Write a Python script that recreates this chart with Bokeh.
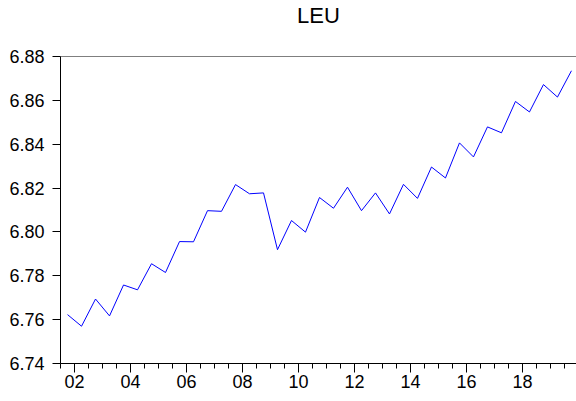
from bokeh.plotting import figure
from bokeh.models import (Range1d, BasicTicker, Span, Title,
                          NumeralTickFormatter, CustomJSTickFormatter)
from bokeh.layouts import gridplot
from bokeh.embed import file_html
from bokeh.resources import INLINE

# Semi-annual observations 2001S2 .. 2019S2
periods = [f"{y}S{h}" for y in range(2001, 2020) for h in (1, 2)][1:]
leu = [6.7623, 6.7570, 6.7694, 6.7617, 6.7758, 6.7736, 6.7855, 6.7815,
       6.7956, 6.7955, 6.8097, 6.8094, 6.8216, 6.8174, 6.8178, 6.7919,
       6.8052, 6.7999, 6.8157, 6.8108, 6.8204, 6.8097, 6.8178, 6.8082,
       6.8217, 6.8153, 6.8296, 6.8246, 6.8406, 6.8342, 6.8479, 6.8452,
       6.8595, 6.8547, 6.8672, 6.8615, 6.8735]
x_tick_years = [2002, 2004, 2006, 2008, 2010, 2012, 2014, 2016, 2018]
x_tick_labels = ["02", "04", "06", "08", "10", "12", "14", "16", "18"]

# time index: centre of each half-year
xs = [int(p[:4]) + (int(p[-1]) - 1) * 0.5 + 0.25 for p in periods]

FONT = "Liberation Sans"

p = figure(width=576, height=401, output_backend="svg", toolbar_location=None,
           x_range=Range1d(2001.499, 2019.93), y_range=Range1d(6.74, 6.88),
           min_border_left=60, min_border_right=0, min_border_top=53,
           min_border_bottom=38, title=None)
p.outline_line_color = None
p.grid.visible = False

# spacer (closest to frame) then the title above it
p.add_layout(Title(text=" ", text_font_size="24px", standoff=0), "above")
p.add_layout(Title(text="LEU", align="center", text_font=FONT, text_font_size="22px",
                   text_font_style="normal", text_color="black", standoff=0), "above")

p.line(xs, leu, line_color="#0000FF", line_width=1)

# frame borders (top, left, bottom)
p.add_layout(Span(location=6.88, dimension="width", line_color="black", line_width=1))
p.add_layout(Span(location=6.74, dimension="width", line_color="black", line_width=1))
p.add_layout(Span(location=2001.499, dimension="height", line_color="black", line_width=1))

ya = p.yaxis[0]
ya.ticker = BasicTicker(mantissas=[2], desired_num_ticks=7, num_minor_ticks=0)
ya.formatter = NumeralTickFormatter(format="0.00")
ya.major_tick_out = 8
ya.major_tick_in = 0
ya.minor_tick_out = 0
ya.minor_tick_in = 0
ya.major_label_standoff = 8
ya.major_label_text_font = FONT
ya.major_label_text_font_size = "18px"
ya.major_label_text_color = "black"

xa = p.xaxis[0]
xa.ticker = BasicTicker(mantissas=[2], desired_num_ticks=9, num_minor_ticks=4)
xa.formatter = CustomJSTickFormatter(
    args=dict(years=x_tick_years, labels=x_tick_labels),
    code="const i = years.indexOf(Math.round(tick)); return i >= 0 ? labels[i] : '';")
xa.major_tick_out = 9
xa.major_tick_in = 0
xa.minor_tick_out = 5
xa.minor_tick_in = 0
xa.major_label_standoff = 2
xa.major_label_text_font = FONT
xa.major_label_text_font_size = "18px"
xa.major_label_text_color = "black"

g = gridplot([[p]], toolbar_location=None)
open("out.html", "w").write(file_html(g, INLINE))
